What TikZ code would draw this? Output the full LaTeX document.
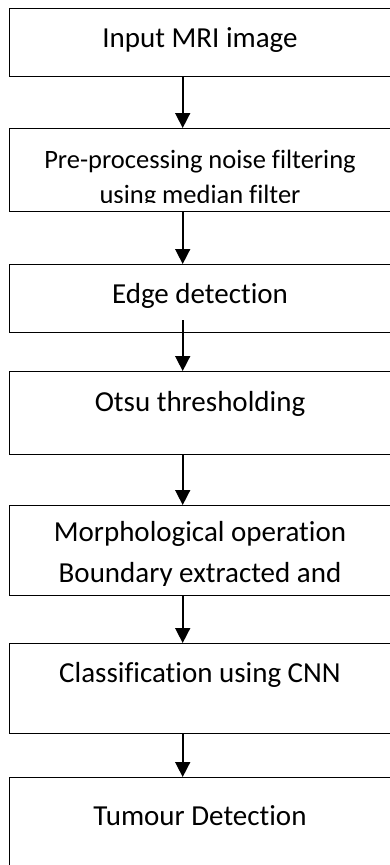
\documentclass[tikz,border=0pt]{standalone}
\usepackage{fontspec}
\setmainfont[Ligatures={NoCommon,NoContextual}]{Carlito}
\usetikzlibrary{arrows.meta}

\tikzset{
  box/.style={draw, line width=1.4pt, minimum width=382pt, anchor=north west, inner sep=0pt},
  lbl/.style={anchor=base, inner sep=0pt, font=\fontsize{29}{35}\selectfont},
  lblsmall/.style={lbl, font=\fontsize{26.5}{32}\selectfont},
  arr/.style={line width=1.6pt, -{Triangle[width=15pt,length=15pt]}},
}

\begin{document}
\begin{tikzpicture}[x=1pt,y=-1pt]
\useasboundingbox (0,0) rectangle (390,865);
\clip (0,0) rectangle (390,865);
% boxes
\node[box,minimum height=68pt] (input) at (9,8) {};
\node[box,minimum height=83pt] (prep) at (9,128) {};
\node[box,minimum height=68pt] (edge) at (9,264) {};
\node[box,minimum height=83pt] (otsu) at (9,371) {};
\node[box,minimum height=90pt] (morph) at (9,505) {};
\node[box,minimum height=90pt] (cnn) at (9,643) {};
\node[box,minimum height=120pt] (tumour) at (9,777) {};
% texts
\node[lbl] (tinput) at (200,47) {Input MRI image};
\begin{scope}
  \clip (prep.north west) rectangle ([yshift=10pt]prep.south east);
  \node[lblsmall] (tprep) at (200,168) {Pre-processing noise filtering};
  \node[lblsmall] (tprepb) at (200,203) {using median filter};
\end{scope}
\node[lbl] (tedge) at (200,303) {Edge detection};
\node[lbl] (totsu) at (200,411) {Otsu thresholding};
\begin{scope}
  \clip (morph.north west) rectangle ([yshift=10.5pt]morph.south east);
  \node[lbl] (tmorph) at (200,541.5) {Morphological operation};
  \node[lbl] (tmorphb) at (200,582.5) {Boundary extracted and};
\end{scope}
\node[lbl] (tcnn) at (200,682) {Classification using CNN};
\node[lbl] (ttumour) at (200,825) {Tumour Detection};
% arrows
\foreach \a/\b in {input/prep, prep/edge, otsu/morph, morph/cnn, cnn/tumour}
  \draw[arr] ([xshift=-18pt]\a.south) -- ([xshift=-18pt]\b.north);
\draw[arr] ([xshift=-18pt,yshift=13pt]edge.south) -- ([xshift=-18pt]otsu.north);
\end{tikzpicture}
\end{document}
